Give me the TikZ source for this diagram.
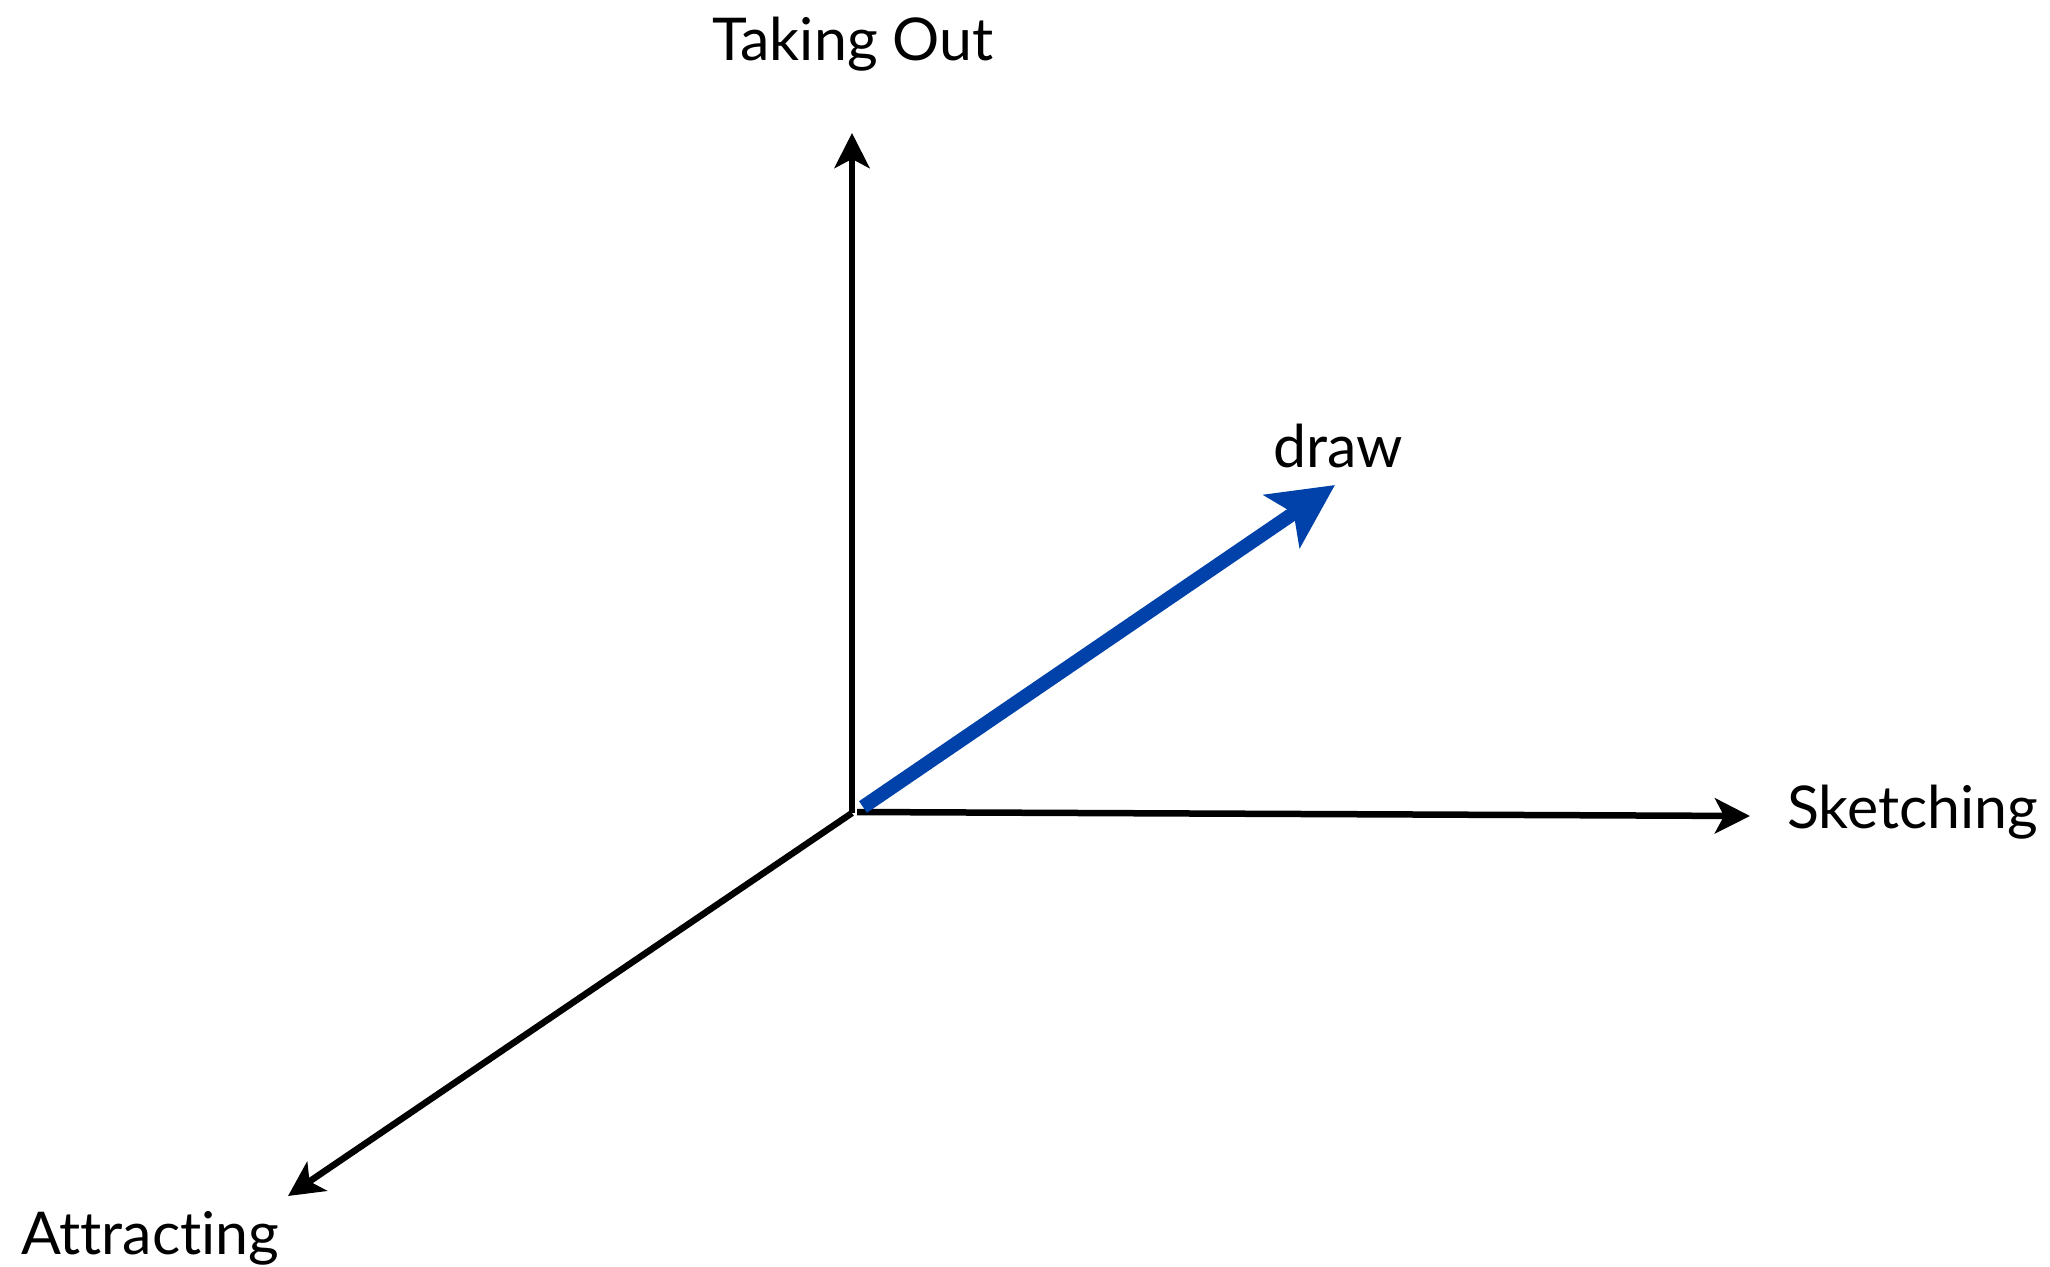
\documentclass[tikz,border=0pt]{standalone}
\usepackage{fontspec}
\setmainfont{Lato}[Ligatures={NoCommon,NoDiscretionary}]
\usetikzlibrary{arrows.meta}
\definecolor{drawblue}{RGB}{0,65,170}
\tikzset{
  axis/.style={line width=6.5pt, -{Stealth[length=35pt,width=35pt,inset=9pt]}},
  vec/.style={line width=14pt, color=drawblue, -{Stealth[length=64pt,width=63pt,inset=14pt]}},
  lbl/.style={inner sep=0pt, anchor=base, font=\fontsize{59}{66}\selectfont}
}
\begin{document}
\begin{tikzpicture}[x=1pt,y=-1pt]
\useasboundingbox (0,0) rectangle (2050,1266);
\coordinate (o) at (852,813);
\coordinate (ho) at (857,812);
\coordinate (bo) at (863,807);
\coordinate (up) at (852,133);
\coordinate (rt) at (1750,816);
\coordinate (dl) at (288,1196);
\coordinate (bt) at (1335,485);
\draw[axis] (o) -- (up);
\draw[axis] (ho) -- (rt);
\draw[axis] (o) -- (dl);
\draw[vec] (bo) -- (bt);
\node[lbl] (takingout) at (853,60) {Taking Out};
\node[lbl] (draw) at (1338,467) {draw};
\node[lbl, anchor=base west] (sketching) at (1787,828) {Sketching};
\node[lbl, anchor=base west] (attracting) at (21,1254) {Attracting};
\end{tikzpicture}
\end{document}
